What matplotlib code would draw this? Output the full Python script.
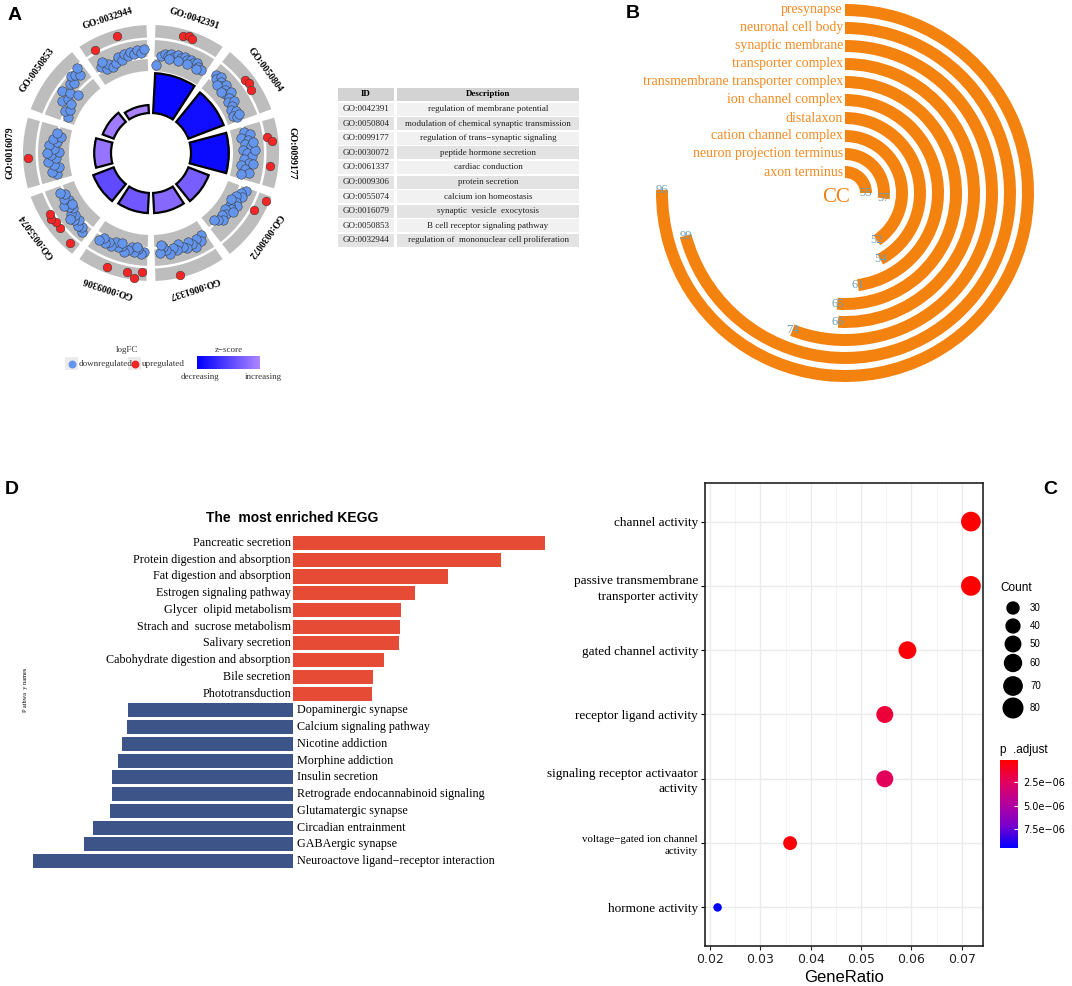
import numpy as np
import matplotlib
matplotlib.use('Agg')
import matplotlib.pyplot as plt
from matplotlib.colors import LinearSegmentedColormap, Normalize
from matplotlib.cm import ScalarMappable
from matplotlib.patches import Rectangle

W, H = 1072, 986
SERIF = 'Liberation Serif'
SANS = 'Liberation Sans'

# ---------------- panel A: GO circle ----------------
go_ids = ['GO:0042391', 'GO:0050804', 'GO:0099177', 'GO:0030072', 'GO:0061337',
          'GO:0009306', 'GO:0055074', 'GO:0016079', 'GO:0050853', 'GO:0032944']
go_desc = ['regulation of membrane potential',
           'modulation of chemical synaptic transmission',
           'regulation of trans\u2212synaptic signaling',
           'peptide hormone secretion',
           'cardiac conduction',
           'protein secretion',
           'calcium ion homeostasis',
           'synaptic  vesicle  exocytosis',
           'B cell receptor signaling pathway',
           'regulation of  mononuclear cell proliferation']
go_count = [95, 90, 90, 52, 48, 48, 52, 40, 28, 19]
go_zscore = [-7.2, -6.9, -7.1, -3.3, -2.8, -3.6, -4.2, -2.3, -2.0, -1.7]

# genes per term: position inside the sector (0-1) and logFC
down_pos = [
    [0.04, 0.12, 0.18, 0.24, 0.30, 0.36, 0.42, 0.48, 0.54, 0.60, 0.66, 0.72, 0.78, 0.84, 0.90, 0.27, 0.45, 0.63, 0.81],
    [0.06, 0.10, 0.14, 0.20, 0.26, 0.30, 0.36, 0.42, 0.46, 0.52, 0.58, 0.62, 0.68, 0.74, 0.80, 0.86, 0.92, 0.20, 0.34, 0.88],
    [0.10, 0.16, 0.20, 0.26, 0.32, 0.38, 0.44, 0.50, 0.56, 0.62, 0.68, 0.74, 0.80, 0.86, 0.90, 0.44, 0.70, 0.30],
    [0.06, 0.12, 0.18, 0.22, 0.30, 0.36, 0.42, 0.48, 0.54, 0.60, 0.66, 0.72, 0.78, 0.84, 0.50, 0.30],
    [0.08, 0.14, 0.20, 0.26, 0.30, 0.36, 0.42, 0.48, 0.54, 0.60, 0.66, 0.72, 0.78, 0.84, 0.90, 0.86],
    [0.06, 0.12, 0.18, 0.24, 0.30, 0.36, 0.42, 0.48, 0.54, 0.60, 0.66, 0.72, 0.78, 0.84, 0.90, 0.50, 0.20],
    [0.10, 0.16, 0.22, 0.28, 0.34, 0.40, 0.46, 0.52, 0.58, 0.64, 0.70, 0.76, 0.82, 0.88, 0.40, 0.60],
    [0.10, 0.16, 0.22, 0.28, 0.34, 0.40, 0.46, 0.52, 0.58, 0.64, 0.70, 0.76, 0.82, 0.88, 0.50],
    [0.10, 0.18, 0.26, 0.32, 0.40, 0.46, 0.52, 0.58, 0.64, 0.70, 0.74, 0.80, 0.86, 0.90, 0.36],
    [0.12, 0.20, 0.26, 0.32, 0.40, 0.46, 0.52, 0.58, 0.64, 0.70, 0.76, 0.82, 0.88, 0.94, 0.18],
]
down_lfc = [
    [-3.9, -2.4, -2.0, -2.3, -1.9, -2.2, -1.8, -2.1, -1.7, -2.0, -1.8, -2.2, -1.9, -2.3, -2.5, -2.7, -2.6, -2.6, -2.8],
    [-1.7, -2.3, -1.5, -2.0, -2.6, -1.8, -2.4, -3.0, -2.0, -2.8, -3.3, -2.4, -3.0, -3.5, -2.9, -3.6, -3.2, -2.9, -3.2, -2.6],
    [-2.8, -1.8, -3.4, -2.4, -3.0, -2.0, -3.3, -2.6, -1.9, -3.1, -2.3, -3.5, -2.7, -2.0, -3.2, -1.4, -1.6, -1.5],
    [-1.6, -2.2, -1.8, -2.8, -2.3, -1.9, -2.9, -2.4, -3.2, -2.6, -3.0, -2.2, -2.8, -3.4, -1.8, -3.3],
    [-2.6, -1.9, -2.4, -1.2, -2.0, -2.6, -1.7, -2.2, -2.9, -1.9, -2.4, -1.6, -2.3, -2.8, -2.0, -3.2],
    [-2.2, -1.7, -2.5, -1.9, -2.6, -2.0, -1.6, -2.4, -2.0, -2.7, -1.8, -2.3, -1.9, -2.5, -1.7, -2.9, -2.9],
    [-1.2, -1.8, -1.4, -2.2, -1.6, -2.4, -1.9, -2.7, -2.2, -1.7, -2.9, -2.3, -2.8, -2.0, -1.2, -3.1],
    [-2.6, -1.8, -3.2, -2.3, -1.4, -2.8, -2.0, -3.3, -2.5, -1.6, -2.9, -2.1, -3.4, -2.7, -1.3],
    [-3.6, -2.7, -3.4, -1.5, -2.2, -0.6, -1.8, -3.2, -0.9, -1.4, -0.2, -0.5, -1.1, 0.1, -3.0],
    [-2.0, -2.8, -2.3, -3.0, -2.5, -1.8, -2.4, -1.6, -2.1, -1.5, -2.0, -1.4, -1.9, -1.3, -1.5],
]
up_pos = [[0.42, 0.50, 0.56], [0.44, 0.52, 0.61], [0.25, 0.33, 0.69], [0.08, 0.28], [0.65],
          [0.08, 0.18, 0.29, 0.60], [0.13, 0.39, 0.50, 0.58, 0.65], [0.42], [], [0.17, 0.55]]
up_lfc = [[1.5, 1.8, 1.5], [1.2, 1.4, 1.0], [0.9, 1.6, 1.2], [2.0, 1.0], [2.2],
          [1.2, 2.3, 1.5, 1.7], [1.5, 1.0, 0.9, 1.3, 1.0], [1.8], [], [0.8, 1.6]]

# ---------------- panel B: CC ----------------
cc_terms = ['presynapse', 'neuronal cell body', 'synaptic membrane', 'transporter complex',
            'transmembrane transporter complex', 'ion channel complex', 'distalaxon',
            'cation channel complex', 'neuron projection terminus', 'axon terminus']
cc_count = [96, 99, 74, 66, 65, 61, 54, 52, 57, 55]
cc_sweep = [271, 255, 201, 183, 184, 172, 152, 146, 98, 90]

# ---------------- panel C: MF dot plot ----------------
mf_terms = ['channel activity', 'passive transmembrane\ntransporter activity',
            'gated channel activity', 'receptor ligand activity',
            'signaling receptor activaator\nactivity', 'voltage\u2212gated ion channel\nactivity',
            'hormone activity']
mf_ratio = [0.0718, 0.0718, 0.0592, 0.0547, 0.0547, 0.0359, 0.0215]
mf_count = [81, 81, 66, 60, 60, 40, 15]
mf_padj = [1.6e-07, 2.0e-07, 3.5e-07, 1.6e-06, 2.4e-06, 4.0e-07, 9.5e-06]
count_breaks = [30, 40, 50, 60, 70, 80]

# ---------------- panel D: KEGG ----------------
kegg_up = ['Pancreatic secretion', 'Protein digestion and absorption', 'Fat digestion and absorption',
           'Estrogen signaling pathway', 'Glycer  olipid metabolism', 'Strach and  sucrose metabolism',
           'Salivary secretion', 'Cabohydrate digestion and absorption', 'Bile secretion',
           'Phototransduction']
kegg_up_val = [25.2, 20.8, 15.5, 12.2, 10.8, 10.7, 10.6, 9.1, 8.0, 7.9]
kegg_down = ['Dopaminergic synapse', 'Calcium signaling pathway', 'Nicotine addiction',
             'Morphine addiction', 'Insulin secretion', 'Retrograde endocannabinoid signaling',
             'Glutamatergic synapse', 'Circadian entrainment', 'GABAergic synapse',
             'Neuroactove ligand\u2212receptor interaction']
kegg_down_val = [-16.5, -16.6, -17.1, -17.5, -18.1, -18.1, -18.3, -20.0, -20.9, -26.0]


def rect(x0, y0, x1, y1):
    """pixel box (top-left origin) -> figure fraction rect"""
    return [x0 / W, 1 - y1 / H, (x1 - x0) / W, (y1 - y0) / H]


fig = plt.figure(figsize=(W / 100, H / 100), dpi=100)

# ===== panel A =====
zcmap = LinearSegmentedColormap.from_list('z', ['#0000ff', '#ad86ff'])
znorm = Normalize(-7.5, -1.5)
axA = fig.add_axes(rect(1, 3, 301, 303), projection='polar')
axA.set_theta_zero_location('N')
axA.set_theta_direction(-1)
axA.set_ylim(0, 150)
axA.axis('off')
step = 360 / len(go_ids)
bands = [(82, 94), (96.5, 113), (115.5, 128)]
for i, gid in enumerate(go_ids):
    mid = i * step + step / 2
    for lo, hi in bands:
        axA.bar(np.deg2rad(mid), hi - lo, width=np.deg2rad(32), bottom=lo,
                color='#bdbdbd', linewidth=0)
    axA.bar(np.deg2rad(mid), go_count[i] * 0.42, width=np.deg2rad(30), bottom=40,
            color=zcmap(znorm(go_zscore[i])), edgecolor='black', linewidth=1.6)
    th = np.deg2rad(i * step + 2 + np.array(down_pos[i]) * 32)
    axA.scatter(th, 112 + 6 * np.array(down_lfc[i]), s=46, c='#6495ed',
                edgecolors='#3a3a3a', linewidths=0.4, zorder=3)
    if up_pos[i]:
        th = np.deg2rad(i * step + 2 + np.array(up_pos[i]) * 32)
        axA.scatter(th, 112 + 6 * np.array(up_lfc[i]), s=38, c='#f52525',
                    edgecolors='#3a3a3a', linewidths=0.4, zorder=3)
    axA.text(np.deg2rad(mid), 141, gid, rotation=-mid, rotation_mode='anchor',
             ha='center', va='center', fontsize=7, fontweight='bold', family=SERIF)

# legend of panel A
axL = fig.add_axes(rect(50, 340, 310, 390))
axL.axis('off')
axL.text(127, 350, 'logFC', ha='center', va='center', fontsize=6.5, family=SERIF, color='#333333')
axL.text(229, 350, 'z\u2212score', ha='center', va='center', fontsize=6.5, family=SERIF, color='#333333')
axL.add_patch(Rectangle((65, 357), 13, 13, color='#ebebeb', lw=0))
axL.add_patch(Rectangle((128, 357), 13, 13, color='#ebebeb', lw=0))
axL.scatter([71.5], [363.5], s=22, c='#6495ed')
axL.scatter([134.5], [363.5], s=22, c='#f52525')
axL.text(79, 364, 'downregulated', ha='left', va='center', fontsize=6.5, family=SERIF, color='#333333')
axL.text(142, 364, 'upregulated', ha='left', va='center', fontsize=6.5, family=SERIF, color='#333333')
axL.imshow(np.linspace(0, 1, 100)[None, :], cmap=zcmap, aspect='auto', extent=(197, 260, 369, 356))
axL.text(200, 377, 'decreasing', ha='center', va='center', fontsize=6.5, family=SERIF, color='#333333')
axL.text(263, 377, 'increasing', ha='center', va='center', fontsize=6.5, family=SERIF, color='#333333')
axL.set_xlim(50, 310)
axL.set_ylim(390, 340)

# table of panel A
axT = fig.add_axes(rect(336, 86, 581, 249))
axT.set_xlim(336, 581)
axT.set_ylim(249, 86)
axT.axis('off')
row_h = 14.6
axT.add_patch(Rectangle((338, 88), 56, 13, color='#d3d3d3', lw=0))
axT.add_patch(Rectangle((397, 88), 182, 13, color='#d3d3d3', lw=0))
axT.text(366, 94.5, 'ID', ha='center', va='center', fontsize=6.5, fontweight='bold', family=SERIF)
axT.text(488, 94.5, 'Description', ha='center', va='center', fontsize=6.5, fontweight='bold', family=SERIF)
for k, (gid, desc) in enumerate(zip(go_ids, go_desc)):
    y0 = 102.5 + k * row_h
    col = '#f1f1f1' if k % 2 == 0 else '#e3e3e3'
    axT.add_patch(Rectangle((338, y0), 56, 13, color=col, lw=0))
    axT.add_patch(Rectangle((397, y0), 182, 13, color=col, lw=0))
    axT.text(366, y0 + 6.5, gid, ha='center', va='center', fontsize=6.5, family=SERIF, color='#222222')
    axT.text(488, y0 + 6.5, desc, ha='center', va='center', fontsize=6.5, family=SERIF, color='#222222')

# ===== panel B =====
orange = '#f4820f'
axB = fig.add_axes(rect(645, -7, 1045, 393), projection='polar')
axB.set_theta_zero_location('N')
axB.set_theta_direction(-1)
axB.set_ylim(0, 200)
axB.axis('off')
radii = 183 - 18 * np.arange(len(cc_terms))
axB.barh(radii, np.deg2rad(cc_sweep), left=0, height=12, color=orange, linewidth=0)
for r, term, cnt, sw in zip(radii, cc_terms, cc_count, cc_sweep):
    axB.annotate(term, xy=(0, r), xytext=(-1.5, 0), textcoords='offset points',
                 ha='right', va='center', fontsize=10, family=SERIF, color='#f58a22')
    axB.text(np.deg2rad(sw), r, str(cnt), ha='center', va='center', fontsize=9,
             family=SERIF, color='#6f9db2')
fig.text(836 / W, 1 - 198 / H, 'CC', ha='center', va='center', fontsize=15,
         family=SERIF, color=orange)

# ===== panel D =====
axD = fig.add_axes(rect(20, 530, 560, 874))
n_up = len(kegg_up)
pos_up = np.arange(n_up)
pos_down = np.arange(len(kegg_down)) + n_up
axD.barh(pos_up, kegg_up_val, height=0.84, color='#e64b35')
axD.barh(pos_down, kegg_down_val, height=0.84, color='#3c5488')
for p, name in zip(pos_up, kegg_up):
    axD.annotate(name, xy=(0, p), xytext=(-1.5, 0), textcoords='offset points',
                 ha='right', va='center', fontsize=8.7, family=SERIF)
for p, name in zip(pos_down, kegg_down):
    axD.annotate(name, xy=(0, p), xytext=(3, 0), textcoords='offset points',
                 ha='left', va='center', fontsize=8.7, family=SERIF)
axD.set_xlim(-27.3, 26.7)
axD.set_ylim(-0.777 + 344 / 16.74, -0.777)
axD.axis('off')
fig.text(292 / W, 1 - 518 / H, 'The  most enriched KEGG', ha='center', va='center',
         fontsize=10, fontweight='bold', family=SANS)
fig.text(25 / W, 1 - 690 / H, 'P athwa  y names', rotation=90, ha='center', va='center',
         fontsize=4.5, family=SERIF)

# ===== panel C =====
pcmap = LinearSegmentedColormap.from_list(
    'p', ['#ff0000', '#e2005f', '#b3009f', '#7800cc', '#0000ff'])
pnorm = Normalize(1.5e-07, 9.5e-06)
axC = fig.add_axes(rect(705, 483, 983, 946))
ypos = np.arange(len(mf_terms))[::-1] + 1
axC.scatter(mf_ratio, ypos, s=np.array(mf_count) * 2.49, c=mf_padj, cmap=pcmap,
            norm=pnorm, linewidths=0, zorder=3)
axC.set_xlim(0.0190, 0.0742)
axC.set_ylim(0.4, 7.6)
axC.set_xticks([0.02, 0.03, 0.04, 0.05, 0.06, 0.07])
axC.set_xticklabels(['0.02', '0.03', '0.04', '0.05', '0.06', '0.07'])
axC.set_xticks([0.025, 0.035, 0.045, 0.055, 0.065], minor=True)
axC.set_yticks(ypos)
axC.set_yticklabels(mf_terms, family=SERIF, fontsize=9.5, linespacing=1.35)
axC.get_yticklabels()[5].set_fontsize(7.8)
axC.tick_params(axis='x', labelsize=9, colors='#222222', length=3, pad=2)
axC.tick_params(axis='y', length=3, pad=2)
axC.tick_params(which='minor', length=0)
axC.grid(True, which='major', color='#ebebeb', linewidth=1.0)
axC.grid(True, which='minor', axis='x', color='#f2f2f2', linewidth=0.6)
axC.set_axisbelow(True)
for sp in axC.spines.values():
    sp.set_linewidth(1.2)
    sp.set_color('#222222')
axC.set_xlabel('GeneRatio', fontsize=12, family=SANS, labelpad=3)

# count legend
axS = fig.add_axes(rect(990, 575, 1072, 720))
axS.axis('off')
axS.text(1000, 588, 'Count', ha='left', va='center', fontsize=8.5, family=SANS)
leg_y = [608, 626, 644, 663, 686, 708]
axS.scatter([1013] * len(count_breaks), leg_y, s=np.array(count_breaks) * 2.49, c='black')
for yy, cb in zip(leg_y, count_breaks):
    axS.text(1030, yy, str(cb), ha='left', va='center', fontsize=7, family=SANS)
axS.set_xlim(990, 1072)
axS.set_ylim(720, 575)

fig.text(1000 / W, 1 - 750 / H, 'p  .adjust', ha='left', va='center', fontsize=8.5, family=SANS)
cax = fig.add_axes(rect(1000, 760, 1018, 848))
cb = fig.colorbar(ScalarMappable(norm=pnorm, cmap=pcmap), cax=cax)
cb.outline.set_visible(False)
cb.set_ticks([2.5e-06, 5.0e-06, 7.5e-06])
cb.set_ticklabels(['2.5e\u221206', '5.0e\u221206', '7.5e\u221206'])
cax.invert_yaxis()
cax.tick_params(length=3, color='white', direction='in', labelsize=7, pad=4)

# panel letters
for lab, x, y in [('A', 15, 15), ('B', 633, 13), ('D', 12, 490), ('C', 1050, 490)]:
    fig.text(x / W, 1 - y / H, lab, ha='center', va='center', fontsize=14,
             fontweight='bold', family=SANS)

fig.savefig('out.png', dpi=100)
